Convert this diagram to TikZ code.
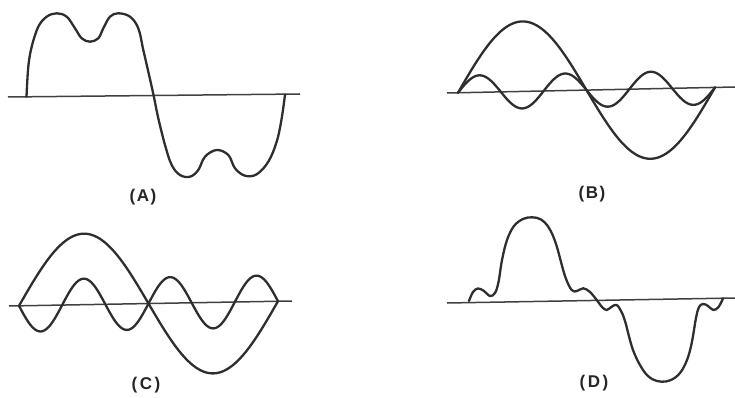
\documentclass[tikz,border=0pt]{standalone}
\usepackage{fontspec}
\setmainfont{Liberation Sans}
\begin{document}
\begin{tikzpicture}[x=1pt,y=-1pt,
  wave/.style={draw=black!82, line width=2.3pt, line join=round, line cap=round},
  axisline/.style={draw=black!75, line width=1.5pt},
  lab/.style={font=\fontsize{17}{19}\selectfont\bfseries, text=black!85, inner sep=0pt}]
\useasboundingbox (0,0) rectangle (735,398);
% ---------- (A) ----------
\coordinate (a1) at (8,97);
\coordinate (a2) at (300,94);
\draw[axisline] (a1) -- (a2);
\draw[wave] plot[smooth, tension=0.6] coordinates {
  (26.5,96.7) (28.3,66.7) (31.7,46.7) (38.3,26.7) (46.7,16.7) (56.7,13.3)
  (66.7,16.7) (75,28.3) (81.7,38.3) (90,41.7) (98.3,38.3) (103.3,28.3)
  (110,16.7) (118.3,13.3) (130,16.7) (138.3,28.3) (143.3,50) (148.3,71.7)
  (153.3,94) (158.3,118.3) (165,145) (171.7,165) (180,175) (190,176.7)
  (198.3,170) (205,156.7) (216.7,150) (228.3,155) (235,168.3) (245,175.7)
  (256.7,174.3) (268.3,161.7) (276.7,141.7) (281.7,118.3) (285,94.5)};
\node[lab] (la) at (143,197) {(\hspace{1.5pt}A\hspace{1.5pt})};
% ---------- (B) ----------
\coordinate (b1) at (447,93);
\coordinate (b2) at (735,87);
\draw[axisline] (b1) -- (b2);
\draw[wave] plot[domain=0:360, samples=150, variable=\t]
  ({458+257*(\t/360)}, {93-0.0208*(11+257*(\t/360)) - 70*sin(\t)});
\draw[wave] plot[domain=0:360, samples=200, variable=\t]
  ({458+257*(\t/360)}, {93-0.0208*(11+257*(\t/360)) - 17*sin(3*\t)});
\node[lab] (lb) at (592,194) {(\hspace{1.5pt}B\hspace{1.5pt})};
% ---------- (C) ----------
\coordinate (c1) at (9,306);
\coordinate (c2) at (292,301);
\draw[axisline] (c1) -- (c2);
\draw[wave] plot[domain=0:360, samples=150, variable=\t]
  ({19+259*(\t/360)}, {306-0.0177*(10+259*(\t/360)) - 71*sin(\t)});
\draw[wave] plot[domain=0:360, samples=200, variable=\t]
  ({19+259*(\t/360)}, {306-0.0177*(10+259*(\t/360)) + 26*sin(3*\t)});
\node[lab] (lc) at (146,385) {(\hspace{2.5pt}C\hspace{2.5pt})};
% ---------- (D) ----------
\coordinate (d1) at (447,303);
\coordinate (d2) at (735,298);
\draw[axisline] (d1) -- (d2);
\draw[wave] plot[smooth, tension=0.6] coordinates {
  (469,301) (473,292) (478,288.5) (484,291) (490,296) (495,293) (498.5,282)
  (502,260) (507,240) (514,226) (523,219) (532,217.3) (541,219.5) (549,228)
  (556,244) (565,276) (571.7,290) (577,291) (583.3,288.3) (590,292) (596.7,300)
  (602,307) (606.7,310) (612,306.5) (616.7,305) (621,311) (625,321) (633,350)
  (643,370) (652,379) (661.7,381.7) (671,380) (680,373) (687,360) (691.7,343)
  (696,318) (699,307) (703.3,304) (708,306) (713.3,310) (718.5,307) (723,298.5)};
\node[lab] (ld) at (594,383) {(\hspace{2.5pt}D\hspace{2.5pt})};
\end{tikzpicture}
\end{document}
